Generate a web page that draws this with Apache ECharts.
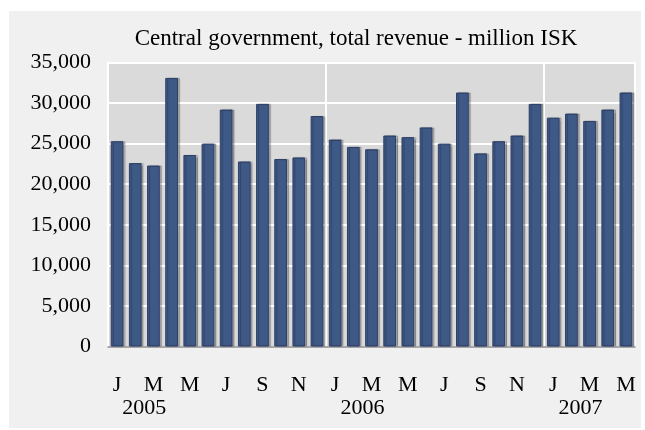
<!DOCTYPE html>
<html>
<head>
<meta charset="utf-8">
<script src="https://cdn.jsdelivr.net/npm/echarts@6/dist/echarts.min.js"></script>
<style>
html,body{margin:0;padding:0;background:#ffffff;}
#panel{position:absolute;left:9px;top:11px;width:632px;height:417px;background:#f0f0f0;}
#chart{position:absolute;left:0;top:0;width:645px;height:430px;}
</style>
</head>
<body>
<div id="panel"></div>
<div id="chart"></div>
<script>
const months = ['Jan 2005','Feb 2005','Mar 2005','Apr 2005','May 2005','Jun 2005','Jul 2005','Aug 2005','Sep 2005','Oct 2005','Nov 2005','Dec 2005',
  'Jan 2006','Feb 2006','Mar 2006','Apr 2006','May 2006','Jun 2006','Jul 2006','Aug 2006','Sep 2006','Oct 2006','Nov 2006','Dec 2006',
  'Jan 2007','Feb 2007','Mar 2007','Apr 2007','May 2007'];
const monthLabels = ['J','F','M','A','M','J','J','A','S','O','N','D',
  'J','F','M','A','M','J','J','A','S','O','N','D',
  'J','F','M','A','M'];
const revenue = [25300,22600,22300,33100,23600,25000,29200,22800,29900,23100,23300,28400,
  25500,24600,24300,26000,25800,27000,25000,31300,23800,25300,26000,29900,
  28200,28700,27800,29200,31300];
const yearLabels = {2:'2005',14:'2006',26:'2007'};
const yTicks = [0,5000,10000,15000,20000,25000,30000,35000];

const serif = '"Liberation Serif","Times New Roman",serif';
const chart = echarts.init(document.getElementById('chart'));
chart.setOption({
  backgroundColor: 'transparent',
  animation: false,
  title: {
    text: 'Central government, total revenue - million ISK',
    left: 351, top: 22, textAlign: 'center',
    textStyle: {fontFamily: serif, fontWeight: 'normal', fontSize: 23, color: '#000'}
  },
  grid: {left: 108, right: 10, top: 62.5, bottom: 83.5, show: true,
    backgroundColor: '#dadada', borderWidth: 0},
  xAxis: [
    {type: 'category', data: months, boundaryGap: true,
      axisLine: {show: true, lineStyle: {color: '#8a8a8a', width: 1.5}},
      axisTick: {show: false},
      splitLine: {show: false},
      axisLabel: {interval: 1, margin: 28, fontFamily: serif, fontSize: 22, color: '#000',
        formatter: (v, i) => monthLabels[i]}
    },
    {type: 'value', min: 0, max: months.length, interval: 12, position: 'bottom',
      axisLine: {show: false}, axisTick: {show: false}, axisLabel: {show: false},
      splitLine: {show: true, lineStyle: {color: '#ffffff', width: 2}}
    },
    {type: 'value', min: 0, max: months.length, interval: 2, position: 'bottom',
      axisLine: {show: false}, axisTick: {show: false}, splitLine: {show: false},
      axisLabel: {show: true, margin: 51, fontFamily: serif, fontSize: 22, color: '#000',
        showMinLabel: false, showMaxLabel: false,
        formatter: v => yearLabels[v] || ''}
    }
  ],
  yAxis: {type: 'value', min: yTicks[0], max: yTicks[yTicks.length-1], interval: 5000,
    axisLine: {show: true, lineStyle: {color: '#ffffff', width: 2}},
    axisTick: {show: false},
    splitLine: {show: true, lineStyle: {color: '#ffffff', width: 2}},
    axisLabel: {margin: 17, fontFamily: serif, fontSize: 22, color: '#000',
      formatter: v => v.toLocaleString('en-US')}
  },
  series: [{
    type: 'bar', data: revenue, xAxisIndex: 0, barCategoryGap: '30%',
    itemStyle: {color: '#3f5987', borderColor: '#2c3f66', borderWidth: 1,
      shadowColor: 'rgba(0,0,0,0.25)', shadowOffsetX: 2, shadowBlur: 1},
    z: 3
  }]
});
</script>
</body>
</html>
